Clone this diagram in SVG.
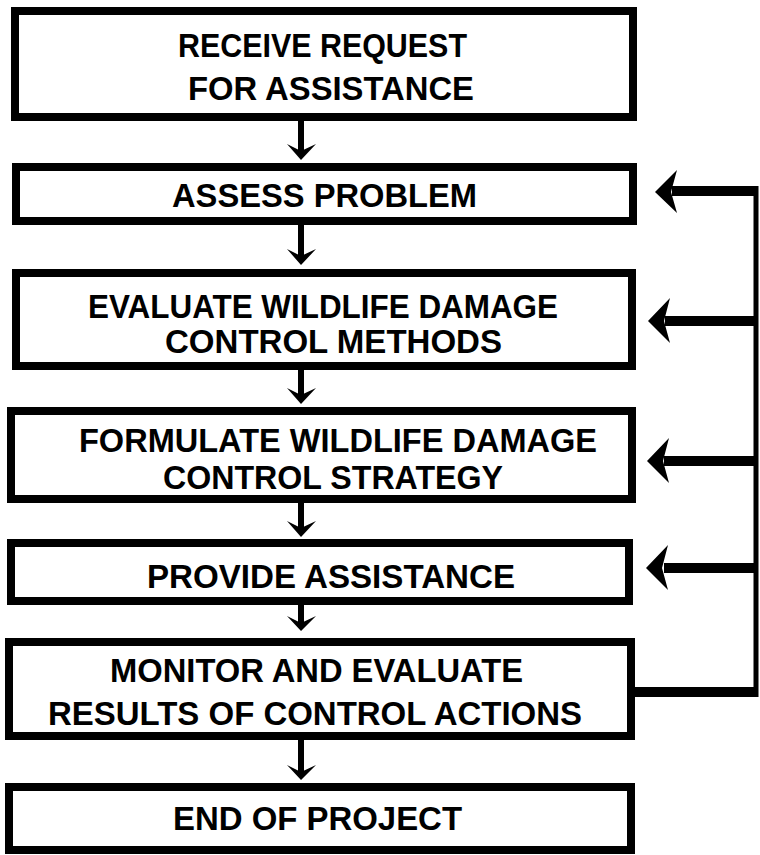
<svg xmlns="http://www.w3.org/2000/svg" width="760" height="855" viewBox="0 0 760 855">
  <style>
    .box { fill: #fff; stroke: #000; stroke-width: 8; }
    .lbl { font-family: "Liberation Sans", Arial, Helvetica, sans-serif; font-weight: bold; font-size: 33px; fill: #000; text-anchor: middle; }
    .shaft { stroke: #000; stroke-width: 6; fill: none; }
    .fb { stroke: #000; stroke-width: 10; fill: none; }
    .rail { stroke: #000; stroke-width: 5; fill: none; }
    .head { fill: #000; }
  </style>
  <rect width="760" height="855" fill="#fff"/>

  <g id="connectors">
    <!-- downward flow arrows -->
    <line class="shaft" x1="301" y1="121" x2="301" y2="154"/>
    <path class="head" d="M287,144 L301,160 L316,144 L301,151 Z"/>
    <line class="shaft" x1="301" y1="225" x2="301" y2="259"/>
    <path class="head" d="M287,249 L301,265 L316,249 L301,256 Z"/>
    <line class="shaft" x1="301" y1="370" x2="301" y2="398"/>
    <path class="head" d="M287,388 L301,404 L316,388 L301,395 Z"/>
    <line class="shaft" x1="301" y1="503" x2="301" y2="531"/>
    <path class="head" d="M287,521 L301,537 L316,521 L301,528 Z"/>
    <line class="shaft" x1="301" y1="605" x2="301" y2="625"/>
    <path class="head" d="M287,616 L301,631 L316,616 L301,623 Z"/>
    <line class="shaft" x1="301" y1="740" x2="301" y2="774"/>
    <path class="head" d="M287,765 L301,780 L316,765 L301,772 Z"/>

    <!-- feedback loop from monitoring back to earlier steps -->
    <polyline class="fb" points="635,692 756,692"/>
    <line class="rail" x1="756" y1="186" x2="756" y2="697"/>
    <line class="fb" x1="672" y1="191" x2="758" y2="191"/>
    <path class="head" d="M655,192 L677,170 L671,192 L677,213 Z"/>
    <line class="fb" x1="665" y1="321" x2="758" y2="321"/>
    <path class="head" d="M648,321 L670,298 L664,321 L670,343 Z"/>
    <line class="fb" x1="664" y1="461" x2="758" y2="461"/>
    <path class="head" d="M647,461 L669,438 L663,461 L669,483 Z"/>
    <line class="fb" x1="664" y1="568" x2="758" y2="568"/>
    <path class="head" d="M646,568 L668,545 L662,568 L668,590 Z"/>
  </g>

  <g id="receive-request">
    <rect class="box" x="15" y="11" width="618" height="106"/>
    <text class="lbl" x="322.5" y="57" textLength="289" lengthAdjust="spacingAndGlyphs">RECEIVE REQUEST</text>
    <text class="lbl" x="331" y="100" textLength="286" lengthAdjust="spacingAndGlyphs">FOR ASSISTANCE</text>
  </g>

  <g id="assess-problem">
    <rect class="box" x="16" y="167" width="617" height="54"/>
    <text class="lbl" x="324.5" y="207" textLength="305" lengthAdjust="spacingAndGlyphs">ASSESS PROBLEM</text>
  </g>

  <g id="evaluate-methods">
    <rect class="box" x="16" y="273" width="616" height="93"/>
    <text class="lbl" x="323" y="318" textLength="470" lengthAdjust="spacingAndGlyphs">EVALUATE WILDLIFE DAMAGE</text>
    <text class="lbl" x="333.5" y="353" textLength="337" lengthAdjust="spacingAndGlyphs">CONTROL METHODS</text>
  </g>

  <g id="formulate-strategy">
    <rect class="box" x="11" y="411" width="621" height="88"/>
    <text class="lbl" x="338" y="452" textLength="518" lengthAdjust="spacingAndGlyphs">FORMULATE WILDLIFE DAMAGE</text>
    <text class="lbl" x="333" y="489" textLength="340" lengthAdjust="spacingAndGlyphs">CONTROL STRATEGY</text>
  </g>

  <g id="provide-assistance">
    <rect class="box" x="11" y="543" width="618" height="58"/>
    <text class="lbl" x="331" y="588" textLength="368" lengthAdjust="spacingAndGlyphs">PROVIDE ASSISTANCE</text>
  </g>

  <g id="monitor-evaluate">
    <rect class="box" x="9" y="642" width="622" height="94"/>
    <text class="lbl" x="316.5" y="682" textLength="413" lengthAdjust="spacingAndGlyphs">MONITOR AND EVALUATE</text>
    <text class="lbl" x="315" y="725" textLength="534" lengthAdjust="spacingAndGlyphs">RESULTS OF CONTROL ACTIONS</text>
  </g>

  <g id="end-of-project">
    <rect class="box" x="9" y="787" width="622" height="63"/>
    <text class="lbl" x="317.5" y="830" textLength="289" lengthAdjust="spacingAndGlyphs">END OF PROJECT</text>
  </g>
</svg>
